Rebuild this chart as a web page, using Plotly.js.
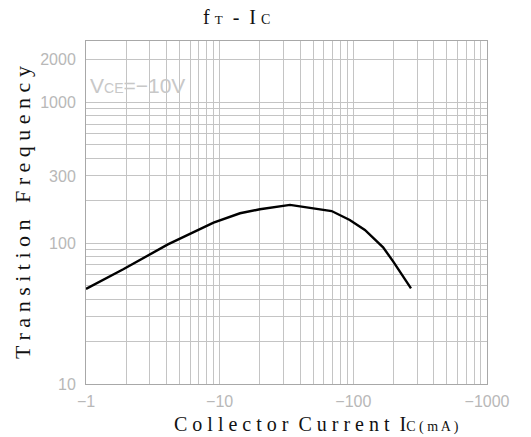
<!DOCTYPE html>
<html>
<head>
<meta charset="utf-8">
<script src="https://cdn.plot.ly/plotly-3.0.1.min.js"></script>
<style>html,body{margin:0;padding:0;background:#fff;}#chart{width:531px;height:437px;}</style>
</head>
<body>
<div id="chart"></div>
<script>
// Collector current magnitude (mA); axis labels show the negative sign
var icMagnitude = [1, 1.9, 4.1, 5.7, 9, 14.2, 20, 33.6, 68.8, 94, 122, 167, 199, 270];
var ftValues = [47.3, 65.2, 98, 114, 140, 163, 174, 187, 169, 146, 124, 93.4, 73.9, 47.8];
var xTickVals = [1, 10, 100, 1000];
var xTickText = ["\u22121", "\u221210", "\u2212100", "\u22121000"];
var yTickVals = [10, 100, 300, 1000, 2000];
var yTickText = ["10", "100", "300", "1000", "2000"];

function minorGrid(lo, hi) {
  var v = [];
  for (var d = lo; d < hi; d *= 10) for (var k = 1; k <= 9; k++) v.push(d * k);
  v.push(hi);
  return v;
}
var xMinor = minorGrid(1, 1000);
var yMinor = minorGrid(10, 1000).concat([2000]);

var gridColor = "#c4c4c4";
var tickFont = {family: "Liberation Sans, Arial, sans-serif", size: 16, color: "#b8b8b8"};
var serif = "Liberation Serif, Times New Roman, serif";

var trace = {
  x: icMagnitude, y: ftValues, type: "scatter", mode: "lines",
  line: {color: "#000", width: 2.4}, hoverinfo: "skip"
};

var layout = {
  width: 531, height: 437,
  margin: {l: 86, r: 44, t: 41, b: 53, pad: 0},
  paper_bgcolor: "#fff", plot_bgcolor: "#fff",
  showlegend: false,
  xaxis: {
    type: "log", range: [0, 3],
    tickmode: "array", tickvals: xTickVals, ticktext: xTickText,
    showgrid: true, gridcolor: gridColor, gridwidth: 1,
    minor: {tickmode: "array", tickvals: xMinor, showgrid: true, gridcolor: gridColor, gridwidth: 1, ticklen: 0},
    showline: true, mirror: true, linecolor: "#a8a8a8", linewidth: 1,
    ticks: "", tickfont: tickFont, ticklabelstandoff: 3,
    zeroline: false, fixedrange: true
  },
  yaxis: {
    type: "log", range: [1, 3.435],
    tickmode: "array", tickvals: yTickVals, ticktext: yTickText,
    showgrid: true, gridcolor: gridColor, gridwidth: 1,
    minor: {tickmode: "array", tickvals: yMinor, showgrid: true, gridcolor: gridColor, gridwidth: 1, ticklen: 0},
    showline: true, mirror: true, linecolor: "#a8a8a8", linewidth: 1,
    ticks: "", tickfont: tickFont, ticklabelstandoff: 6,
    zeroline: false, fixedrange: true
  },
  annotations: [
    {xref: "paper", yref: "paper", x: (236 - 86) / 401, y: 1 + (41 - 17) / 343, xanchor: "center", yanchor: "middle",
     showarrow: false, text: "f <span style='font-size:13px'>T</span>  -  I <span style='font-size:14px'>C</span>",
     font: {family: serif, size: 20, color: "#111"}},
    {xref: "paper", yref: "paper", x: (316 - 86) / 401, y: -(424 - 384) / 343, xanchor: "center", yanchor: "middle",
     showarrow: false,
     text: "C o l l e c t o r  C u r r e n t  I<span style='font-size:14px'>C ( m A )</span>",
     font: {family: serif, size: 20, color: "#111"}},
    {xref: "paper", yref: "paper", x: -(86 - 22) / 401, y: (384 - 213) / 343, xanchor: "center", yanchor: "middle",
     showarrow: false, textangle: -90,
     text: "T r a n s i t i o n   F r e q u e n c y",
     font: {family: serif, size: 22, color: "#111"}},
    {xref: "paper", yref: "paper", x: (88 - 86) / 401, y: (384 - 85) / 343, xanchor: "left", yanchor: "middle",
     showarrow: false,
     text: "V<span style='font-size:14px'>CE</span>=\u221210V",
     font: {family: "Liberation Sans, Arial, sans-serif", size: 21, color: "#c8c8c8"}}
  ]
};

Plotly.newPlot("chart", [trace], layout, {staticPlot: true, displayModeBar: false});
</script>
</body>
</html>
